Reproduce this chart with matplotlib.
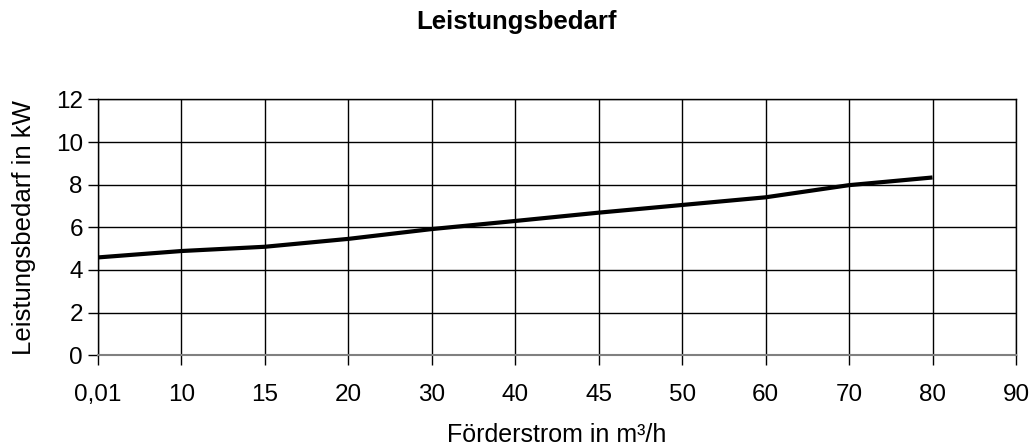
import numpy as np
from matplotlib import pyplot as plt

plt.rcParams['font.family'] = ['Liberation Sans', 'DejaVu Sans']

# categories on the x axis (evenly spaced, Excel line chart style)
foerderstrom = ['0,01', '10', '15', '20', '30', '40', '45', '50', '60', '70', '80', '90']
# power demand in kW, one value per category up to 80
leistung = [4.59, 4.89, 5.09, 5.46, 5.92, 6.30, 6.69, 7.05, 7.41, 7.98, 8.34]

fig = plt.figure(figsize=(10.33, 4.48), dpi=100)
ax = fig.add_axes([0.0949, 0.207, 0.8886, 0.571])

pos = np.arange(len(foerderstrom))
ax.plot(pos[:len(leistung)], leistung, color='black', linewidth=3, solid_capstyle='butt', zorder=3)

ax.set_xlim(0, len(foerderstrom) - 1)
ax.set_ylim(0, 12)
ax.set_xticks(pos)
ax.set_xticklabels(foerderstrom)
ax.set_yticks(np.arange(0, 13, 2))
ax.grid(True, color='black', linewidth=1)
ax.set_axisbelow(True)
for s in ax.spines.values():
    s.set_linewidth(1)
    s.set_color('black')
ax.spines['bottom'].set_color('#808080')
ax.spines['bottom'].set_linewidth(1.5)
ax.tick_params(direction='out', length=7, width=1, labelsize=17.5)
ax.tick_params(axis='x', pad=14)
ax.tick_params(axis='y', pad=4)

ax.set_xlabel('Förderstrom in m³/h', fontsize=18, va='baseline')
ax.set_ylabel('Leistungsbedarf in kW', fontsize=18.5, va='center')
ax.xaxis.set_label_coords(0.4995, -0.340)
ax.yaxis.set_label_coords(-0.0806, 0.5)
fig.text(0.5, 1 - 29.5 / 448, 'Leistungsbedarf', ha='center', va='baseline', fontsize=18.5, fontweight='bold')

fig.savefig('out.png', dpi=100)
